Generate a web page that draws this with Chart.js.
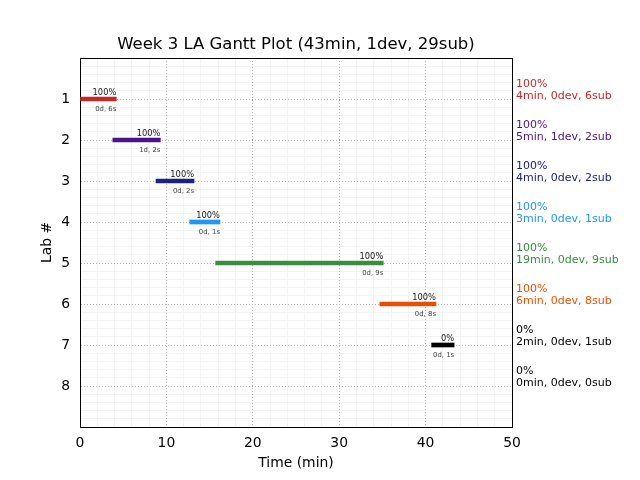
<!DOCTYPE html>
<html>
<head>
<meta charset="utf-8">
<script src="https://cdn.jsdelivr.net/npm/chart.js@4/dist/chart.umd.min.js"></script>
<style>
html,body{margin:0;padding:0;background:#fff;}
#wrap{width:640px;height:480px;}
</style>
</head>
<body>
<div id="wrap"><canvas id="c" width="640" height="480"></canvas></div>
<script>
const labs = [1, 2, 3, 4, 5, 6, 7, 8];
const starts = [0, 3.8, 8.8, 12.7, 15.7, 34.7, 40.7, null];
const ends = [4.2, 9.3, 13.2, 16.2, 35.1, 41.2, 43.3, null];
const pcts = [100, 100, 100, 100, 100, 100, 0, 0];
const minutes = [4, 5, 4, 3, 19, 6, 2, 0];
const devs = [0, 1, 0, 0, 0, 0, 0, 0];
const subs = [6, 2, 2, 1, 9, 8, 1, 0];
const colors = ['#c62828', '#4a148c', '#1a237e', '#2196f3', '#388e3c', '#e65100', '#000000', '#000000'];
const yTicks = [1, 2, 3, 4, 5, 6, 7, 8];
const xTicks = [0, 10, 20, 30, 40, 50];
const titleText = 'Week 3 LA Gantt Plot (43min, 1dev, 29sub)';

const FONT = "'DejaVu Sans', sans-serif";

const barData = labs.map((l, i) => ({ y: l, x: starts[i] === null ? null : [starts[i], ends[i]] }));

const labelPlugin = {
  id: 'labels',
  afterDatasetsDraw(chart) {
    const ctx = chart.ctx;
    const xs = chart.scales.x, ys = chart.scales.y;
    ctx.save();
    labs.forEach((l, i) => {
      const y = ys.getPixelForValue(l);
      if (starts[i] !== null) {
        const x = xs.getPixelForValue(ends[i]);
        ctx.textAlign = 'right';
        ctx.textBaseline = 'alphabetic';
        ctx.fillStyle = '#222';
        ctx.font = '8.3px ' + FONT;
        ctx.fillText(pcts[i] + '%', x, y - 4);
        ctx.fillStyle = '#444';
        ctx.font = '6.9px ' + FONT;
        ctx.fillText(devs[i] + 'd, ' + subs[i] + 's', x, y + 12);
      }
      const rx = chart.chartArea.right + 4;
      ctx.textAlign = 'left';
      ctx.textBaseline = 'alphabetic';
      ctx.fillStyle = colors[i];
      ctx.font = '11px ' + FONT;
      ctx.fillText(pcts[i] + '%', rx, y - 12.5);
      ctx.fillText(minutes[i] + 'min, ' + devs[i] + 'dev, ' + subs[i] + 'sub', rx, y);
    });
    ctx.restore();
  }
};

new Chart(document.getElementById('c'), {
  type: 'bar',
  data: {
    datasets: [{
      data: barData,
      backgroundColor: colors,
      borderWidth: 0,
      barThickness: 4,
      borderSkipped: false
    }]
  },
  options: {
    indexAxis: 'y',
    responsive: false,
    animation: false,
    layout: { padding: { left: 0, right: 128, top: 0, bottom: 0 } },
    plugins: {
      legend: { display: false },
      tooltip: { enabled: false },
      title: {
        display: true,
        text: titleText,
        fullSize: false,
        color: '#000',
        font: { family: FONT, size: 16.5, weight: 'normal', lineHeight: 1.2 },
        padding: { top: 35, bottom: 3.2 }
      }
    },
    scales: {
      x2: {
        type: 'linear', position: 'top', min: 0, max: 50, offset: false,
        ticks: { display: false, stepSize: 2 },
        grid: { drawTicks: false, offset: false, color: (c) => (c.tick && c.tick.value % 10 === 0) ? 'rgba(0,0,0,0)' : '#f3f3f3', lineWidth: 1 },
        border: { display: true, color: '#000', width: 1 },
        afterFit(s) { s.height = 0; }
      },
      y2: {
        type: 'linear', position: 'right', min: 0, max: 9, reverse: true, offset: false,
        ticks: { display: false, stepSize: 0.2 },
        grid: { drawTicks: false, offset: false, color: (c) => (c.tick && Math.abs(c.tick.value - Math.round(c.tick.value)) < 1e-6) ? 'rgba(0,0,0,0)' : '#f3f3f3', lineWidth: 1 },
        border: { display: true, color: '#000', width: 1 },
        afterFit(s) { s.width = 0; }
      },
      x: {
        type: 'linear', position: 'bottom', min: 0, max: 50, offset: false,
        afterBuildTicks(s) { s.ticks = xTicks.map(v => ({ value: v })); },
        ticks: { color: '#000', padding: 8, font: { family: FONT, size: 13.9 } },
        grid: { drawTicks: false, offset: false, color: '#b0b0b0', lineWidth: 1 },
        border: { display: true, color: '#000', width: 1, dash: [1, 2] },
        title: { display: true, text: 'Time (min)', color: '#000', font: { family: FONT, size: 13.9 }, padding: { top: 0, bottom: 8 } },
        afterFit(s) { s.height = 53; }
      },
      y: {
        type: 'linear', position: 'left', min: 0, max: 9, reverse: true, offset: false,
        afterBuildTicks(s) { s.ticks = [0].concat(yTicks, [9]).map(v => ({ value: v })); },
        ticks: { color: '#000', padding: 10, font: { family: FONT, size: 13.9 }, callback: (v) => (v >= 1 && v <= 8) ? String(v) : '' },
        grid: { drawTicks: false, offset: false, color: '#b0b0b0', lineWidth: 1 },
        border: { display: true, color: '#000', width: 1, dash: [1, 2] },
        title: { display: true, text: 'Lab #', color: '#000', font: { family: FONT, size: 13.9 }, padding: { top: 39, bottom: 0 } },
        afterFit(s) { s.width = 80; }
      }
    }
  },
  plugins: [labelPlugin]
});
</script>
</body>
</html>
